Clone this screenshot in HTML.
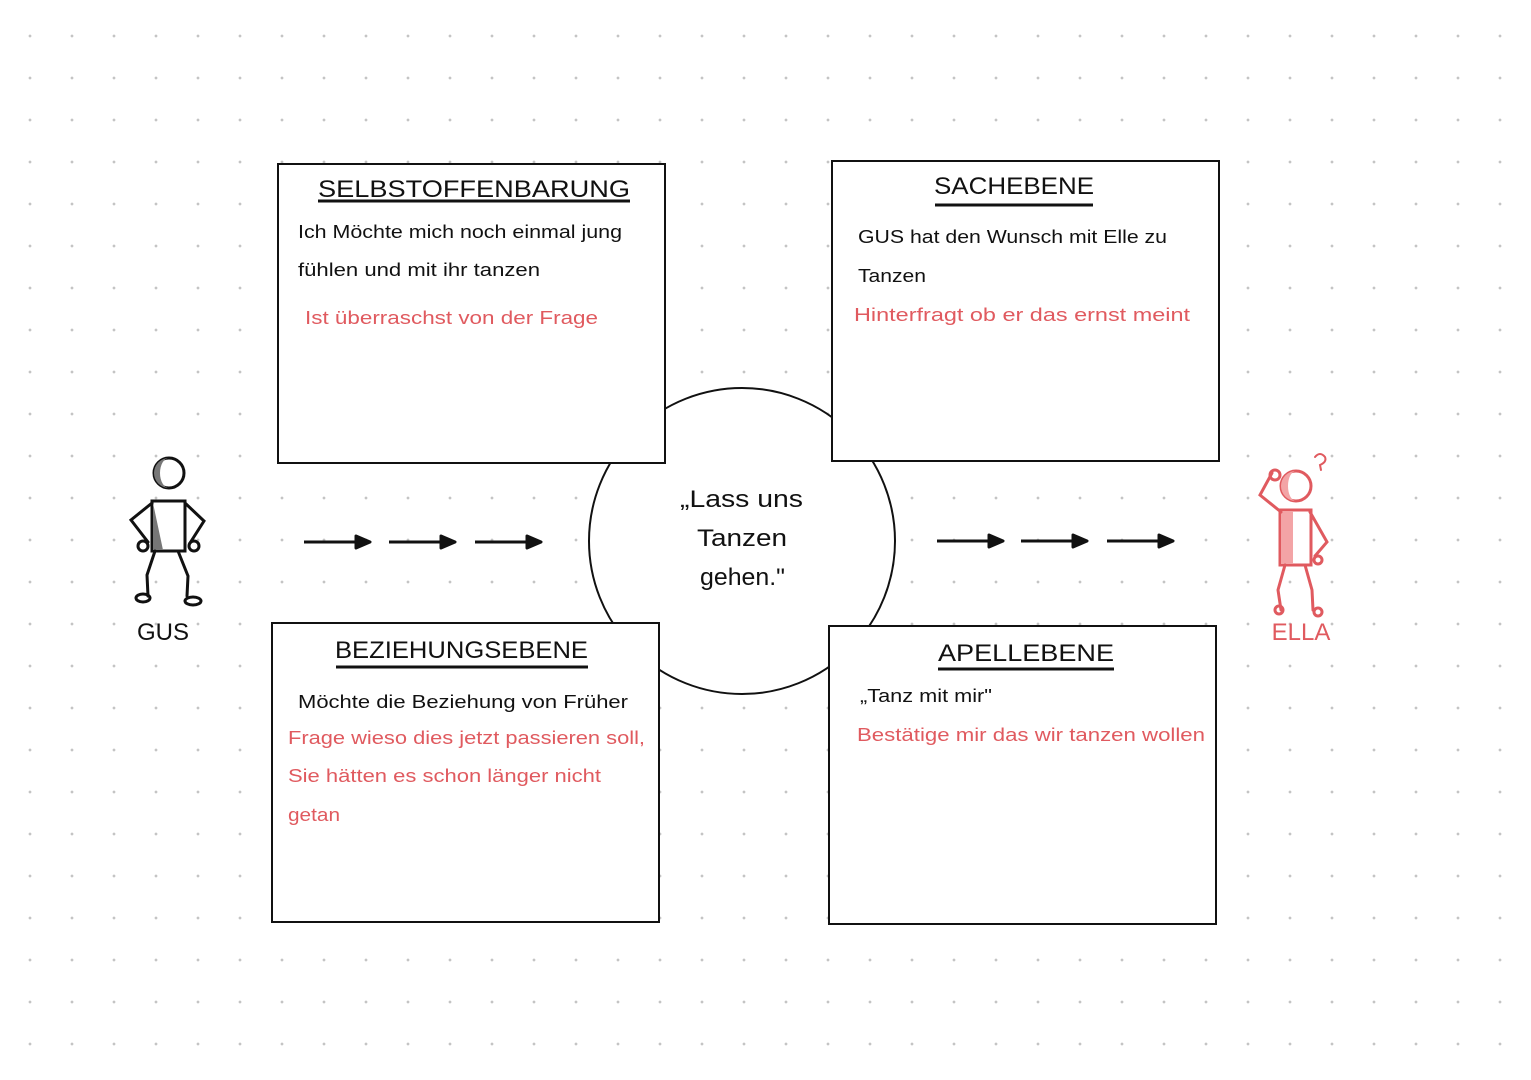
<!DOCTYPE html>
<html><head><meta charset="utf-8"><style>
html,body{margin:0;padding:0}
body{width:1531px;height:1080px;background:#fff;position:relative;overflow:hidden;
background-image:radial-gradient(circle,#c4c4c4 1.2px,transparent 1.6px);background-size:42px 42px;background-position:9px 15px;
font-family:"Liberation Sans",sans-serif}
svg{position:absolute;left:0;top:0}
text{font-family:"Liberation Sans",sans-serif}
</style></head><body>
<svg width="1531" height="1080" viewBox="0 0 1531 1080">
<g fill="none" stroke="#111" stroke-width="2">
<circle cx="742" cy="541" r="153" fill="#fff"/>
<rect x="278" y="164" width="387" height="299" fill="#fff"/>
<rect x="832" y="161" width="387" height="300" fill="#fff"/>
<rect x="272" y="623" width="387" height="299" fill="#fff"/>
<rect x="829" y="626" width="387" height="298" fill="#fff"/>
</g>
<g stroke="#111" stroke-width="3" fill="#111" stroke-linejoin="round">
<path d="M304 542H358"/><path d="M356 536l14 6-14 6z"/>
<path d="M389 542H443"/><path d="M441 536l14 6-14 6z"/>
<path d="M475 542H529"/><path d="M527 536l14 6-14 6z"/>
<path d="M937 541H991"/><path d="M989 535l14 6-14 6z"/>
<path d="M1021 541H1075"/><path d="M1073 535l14 6-14 6z"/>
<path d="M1107 541H1161"/><path d="M1159 535l14 6-14 6z"/>
<path d="M318 201H630M336 667H588M935 205H1093M938 669H1114" fill="none"/>
</g>
<g font-size="24" fill="#111">
<text x="318" y="197" textLength="312" lengthAdjust="spacingAndGlyphs">SELBSTOFFENBARUNG</text>
<text x="934" y="194" textLength="160" lengthAdjust="spacingAndGlyphs">SACHEBENE</text>
<text x="335" y="658" textLength="253" lengthAdjust="spacingAndGlyphs">BEZIEHUNGSEBENE</text>
<text x="938" y="661" textLength="176" lengthAdjust="spacingAndGlyphs">APELLEBENE</text>
<text x="680" y="507" textLength="123" lengthAdjust="spacingAndGlyphs">„Lass uns</text>
<text x="697" y="546" textLength="90" lengthAdjust="spacingAndGlyphs">Tanzen</text>
<text x="700" y="585" textLength="85" lengthAdjust="spacingAndGlyphs">gehen."</text>
<text x="163" y="640" text-anchor="middle">GUS</text>
<text x="1301" y="640" fill="#e05a5f" text-anchor="middle">ELLA</text>
</g>
<g font-size="18" fill="#111" lengthAdjust="spacingAndGlyphs">
<text x="298" y="238" textLength="324" lengthAdjust="spacingAndGlyphs">Ich Möchte mich noch einmal jung</text>
<text x="298" y="276" textLength="242" lengthAdjust="spacingAndGlyphs">fühlen und mit ihr tanzen</text>
<text x="858" y="243" textLength="309" lengthAdjust="spacingAndGlyphs">GUS hat den Wunsch mit Elle zu</text>
<text x="858" y="282" textLength="68" lengthAdjust="spacingAndGlyphs">Tanzen</text>
<text x="298" y="708" textLength="330" lengthAdjust="spacingAndGlyphs">Möchte die Beziehung von Früher</text>
<text x="860" y="702" textLength="132" lengthAdjust="spacingAndGlyphs">„Tanz mit mir"</text>
</g>
<g font-size="18" fill="#e05a5f">
<text x="305" y="324" textLength="293" lengthAdjust="spacingAndGlyphs">Ist überraschst von der Frage</text>
<text x="854" y="321" textLength="336" lengthAdjust="spacingAndGlyphs">Hinterfragt ob er das ernst meint</text>
<text x="288" y="744" textLength="357" lengthAdjust="spacingAndGlyphs">Frage wieso dies jetzt passieren soll,</text>
<text x="288" y="782" textLength="313" lengthAdjust="spacingAndGlyphs">Sie hätten es schon länger nicht</text>
<text x="288" y="821" textLength="52" lengthAdjust="spacingAndGlyphs">getan</text>
<text x="857" y="741" textLength="348" lengthAdjust="spacingAndGlyphs">Bestätige mir das wir tanzen wollen</text>
</g>
<!-- Gus -->
<g stroke="#111" stroke-width="3" fill="none" stroke-linecap="round">
<circle cx="169" cy="473" r="15" fill="#fff"/>
<path d="M169 458a15 15 0 0 0 0 30a9 15 0 0 1 0-30z" fill="#777" stroke="none"/>
<rect x="152" y="501" width="33" height="50" fill="#fff"/>
<path d="M153 503l10 47h-10z" fill="#777" stroke="none"/>
<path d="M152 503L131 520l17 22M185 503l19 18-14 22"/>
<circle cx="143" cy="546" r="5"/><circle cx="194" cy="546" r="5"/>
<path d="M155 551L147 575l1 21M178 551l10 25-1 20"/>
<ellipse cx="143" cy="598" rx="7" ry="4"/><ellipse cx="193" cy="601" rx="8" ry="4"/>
</g>
<!-- Ella -->
<g stroke="#e05a5f" stroke-width="3" fill="none" stroke-linecap="round">
<circle cx="1296" cy="486" r="15" fill="#fff"/>
<path d="M1296 471a15 15 0 0 0 0 30a8 15 0 0 1 0-30z" fill="#f3a4a6" stroke="none"/>
<rect x="1280" y="510" width="31" height="55" fill="#fff"/>
<path d="M1281 511h12v53h-12z" fill="#f3a4a6" stroke="none"/>
<path d="M1281 512L1260 495l12-22"/><circle cx="1275" cy="475" r="5"/>
<path d="M1310 512l17 30-12 14"/><circle cx="1318" cy="560" r="4"/>
<path d="M1285 565l-7 25 3 20M1305 565l7 25 1 20"/>
<circle cx="1279" cy="610" r="4"/><circle cx="1318" cy="612" r="4"/>
<path d="M1315 457q5-6 10 0q2 5-5 8l1 5" stroke-width="2"/>
</g>
</svg>
</body></html>
